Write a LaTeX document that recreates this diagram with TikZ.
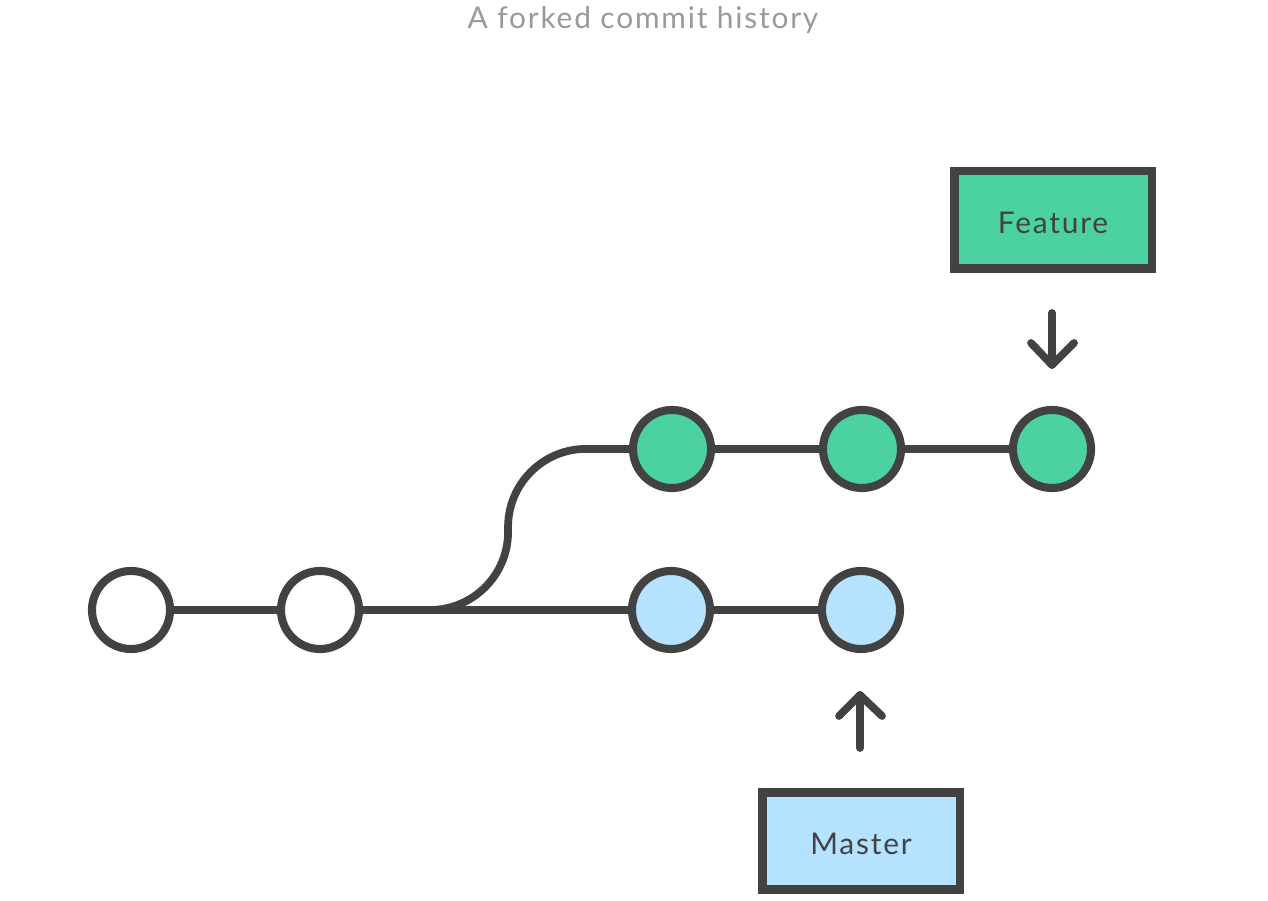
\documentclass[tikz,border=0pt]{standalone}
\usepackage{fontspec}
\usetikzlibrary{calc}
\setmainfont{Lato}[LetterSpace=6]
\definecolor{dark}{HTML}{424242}
\definecolor{fgreen}{HTML}{4CD2A0}
\definecolor{mblue}{HTML}{B5E3FF}
\definecolor{titlegray}{HTML}{9A9A9A}
\begin{document}
\begin{tikzpicture}[x=0.01cm,y=0.01cm,
  every node/.style={font=\fontsize{8.5}{10}\selectfont},
  commit/.style={circle,draw=dark,line width=2.3pt,minimum size=0.78cm,inner sep=0pt},
  plain/.style={commit,fill=white},
  feat/.style={commit,fill=fgreen},
  mast/.style={commit,fill=mblue},
  conn/.style={draw=dark,line width=2.2pt},
  branchbox/.style={rectangle,draw=dark,line width=2.3pt,minimum width=1.97cm,minimum height=0.97cm,inner sep=0pt,text=dark,text height=7.8pt,text depth=0pt},
  pointer/.style={draw=dark,line width=2.2pt,line cap=round,line join=round}]
\useasboundingbox[fill=white] (0,0) rectangle (1268,901);
\node[text=titlegray] (title) at (643,881) {A forked commit history};
% commits
\node[plain] (c1) at (131,291) {};
\node[plain] (c2) at (320,291) {};
\node[mast] (b1) at (671,291) {};
\node[mast] (b2) at (861,291) {};
\node[feat] (g1) at (672,452) {};
\node[feat] (g2) at (862,452) {};
\node[feat] (g3) at (1052,452) {};
\coordinate (fork) at (430,291);
% connectors
\draw[conn] (c1) -- (c2);
\draw[conn] (c2) -- (b1);
\draw[conn] (b1) -- (b2);
\draw[conn] (g1) -- (g2);
\draw[conn] (g2) -- (g3);
\draw[conn] (fork) arc[start angle=-90,end angle=0,radius=0.78cm] -- ++(0,5) arc[start angle=180,end angle=90,radius=0.78cm] -- (g1);
% branch labels
\node[branchbox,fill=fgreen] (feature) at (1053,681) {Feature};
\node[branchbox,fill=mblue] (master) at (861,60) {Master};
% pointers
\coordinate (fs) at (1052,588);
\coordinate (ft) at (1052,536);
\coordinate (ms) at (860,153);
\coordinate (mt) at (860,206);
\draw[pointer] (fs) -- (ft);
\draw[pointer] ($(ft)+(-21,22)$) -- (ft) -- ($(ft)+(22,22)$);
\draw[pointer] (ms) -- (mt);
\draw[pointer] ($(mt)+(-21,-21)$) -- (mt) -- ($(mt)+(22,-21)$);
\end{tikzpicture}
\end{document}
